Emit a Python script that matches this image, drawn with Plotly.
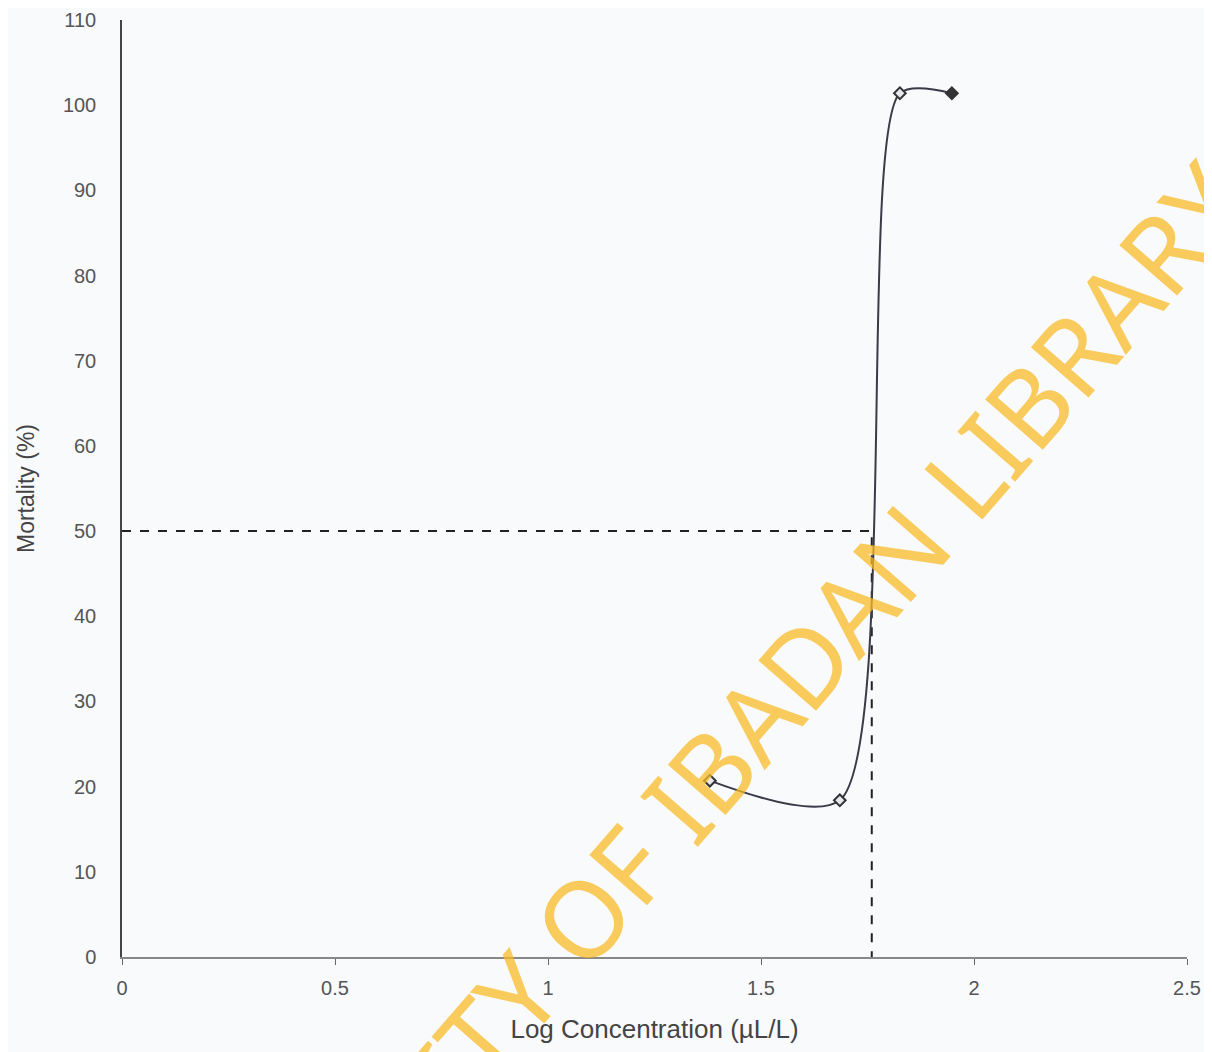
import plotly.graph_objects as go

# Data
log_conc = [1.38, 1.685, 1.826, 1.948]
mortality = [20.7, 18.4, 101.4, 101.4]

# LC50 reference (dashed guide lines)
lc50_log = 1.76
lc50_mort = 50

x_ticks = [0, 0.5, 1, 1.5, 2, 2.5]
x_tick_labels = ["0", "0.5", "1", "1.5", "2", "2.5"]
y_ticks = [0, 10, 20, 30, 40, 50, 60, 70, 80, 90, 100, 110]

watermark = "UNIVERSITY OF IBADAN LIBRARY"

fig = go.Figure()

fig.add_trace(go.Scatter(
    x=[0, lc50_log, lc50_log], y=[lc50_mort, lc50_mort, 0],
    mode="lines", line=dict(color="#222", width=2, dash="dash"),
    showlegend=False, hoverinfo="skip"))

fig.add_trace(go.Scatter(
    x=log_conc, y=mortality, mode="lines+markers",
    line=dict(color="#3a3a48", width=2, shape="spline", smoothing=0.75),
    marker=dict(symbol="diamond", size=9,
                color=["#e8e8ee", "#e8e8ee", "#e8e8ee", "#333"],
                line=dict(color="#333", width=2)),
    showlegend=False))

fig.add_annotation(
    text=watermark, x=0.526, y=0.166,
    xref="paper", yref="paper", xanchor="center", yanchor="middle",
    showarrow=False, textangle=-49,
    font=dict(family="Noto Sans", size=107, color="rgba(250,186,38,0.74)"))

fig.update_layout(
    width=1204, height=1044,
    margin=dict(l=114, r=25, t=12, b=95),
    paper_bgcolor="#f8fafb", plot_bgcolor="#f8fafb",
    font=dict(family="Liberation Sans, Arial", color="#555", size=20),
    xaxis=dict(range=[0, 2.5], tickvals=x_ticks, ticktext=x_tick_labels,
               showgrid=False, zeroline=False, showline=True,
               linecolor="#888", linewidth=1.5, ticks="outside",
               ticklen=6, tickcolor="#666", ticklabelstandoff=6,
               automargin=False,
               title=dict(text="Log Concentration (µL/L)", standoff=22,
                          font=dict(size=26, color="#444"))),
    yaxis=dict(range=[0, 110], tickvals=y_ticks,
               showgrid=False, zeroline=False, showline=True,
               linecolor="#444", linewidth=1.5, ticks="",
               ticklabelstandoff=20, automargin=False,
               title=dict(text="Mortality (%)", standoff=22,
                          font=dict(size=23, color="#444"))),
)

fig.write_html("out.html")
